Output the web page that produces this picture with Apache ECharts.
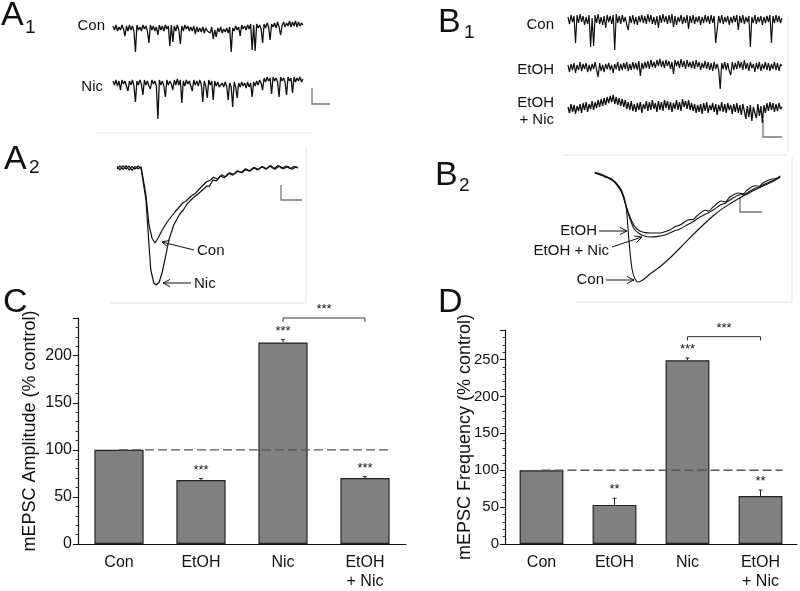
<!DOCTYPE html>
<html>
<head>
<meta charset="utf-8">
<script src="https://cdn.jsdelivr.net/npm/echarts@6/dist/echarts.min.js"></script>
<style>
html,body{margin:0;padding:0;background:#fff;}
#chart{width:800px;height:591px;}
</style>
</head>
<body>
<div id="chart"></div>
<script>
// ---------------- DATA ----------------
const categories = ['Con', 'EtOH', 'Nic', 'EtOH\n+ Nic'];
const ampMean = [100, 68, 214, 70];
const ampErr = [0, 1.5, 3, 1.5];
const ampSig = ['', '***', '***', '***'];
const ampBracket = [2, 3, 240, 4, '***'];
const freqMean = [100, 53, 249, 65];
const freqErr = [0, 9, 3, 8];
const freqSig = ['', '**', '***', '**'];
const freqBracket = [2, 3, 281, 5, '***'];
const controlLevel = 100;

// A1 traces (pA, evenly sampled)
const a1Con = [2,-2,3,-3,1,-2,3,-1,-8,2, -3,3,-2,2,-3,-24,3,-2,1,-3, 3,-1,2,-3,-15,3,-2,2,-3,1,
  -7,3,-2,2,-3,3,-1,2,-18,3, -14,2,-3,3,-2,-16,2,-3,3,-1, 2,-3,1,-3,2,-6,1,-4,0,-4,
  1,-5,0,-3,-1,-5,1,-11,-2,-9, 0,-4,1,-5,-1,-4,0,-5,1,-24, 0,-3,2,-2,1,-8,3,-1,2,-2,
  3,-1,4,-22,3,-23,4,0,3,-1, -15,4,0,5,1,-12,4,1,5,0, 6,1,-7,2,6,1,5,2,7,1, 6,2,7,1,6,2,5,3];
const a1Nic = [2,-2,3,-3,2,-7,3,-1,2,-3, -8,2,-2,3,-3,-19,2,-2,3,-1, -12,3,-2,2,-3,-6,3,-1,2,-3,
  -36,3,-2,2,-3,-14,3,-2,2,-1, -7,3,-2,4,-2,3,-20,2,-3,3, -1,2,-3,-8,3,-2,2,-3,3,-1,
  -19,2,-3,-15,3,-2,2,-17,2,-3, 1,-4,-6,0,-4,1,-3,-17,0,-4, -24,1,-4,-15,0,-4,1,-3,0,-5,
  1,-4,0,-14,1,-3,2,-2,3,0, -7,5,1,6,2,5,-11,6,2,5, 1,-14,6,2,5,1,-12,6,2,5, -10,6,1,5,2,6,1,4];
// B1 traces
const b1Con = [3,-4,5,-2,4,-23,5,-3,6,-2, 4,-5,3,-4,5,-27,2,-26,5,-3, 6,-4,3,-5,4,-8,5,-2,4,-4,
  5,-30,6,-3,4,-4,5,-2,3,-5, -10,4,-3,5,-4,3,-5,4,-2,5, -3,4,-4,6,-2,5,-4,3,-5,4,
  -8,5,-3,6,-2,4,-4,5,-3,6, -7,4,-5,3,-2,5,-4,3,-3,5, -9,4,-3,5,-4,3,-2,4,-5,3,
  -3,5,-2,4,-4,5,-3,4,-23,-22, 4,-3,5,-4,3,-2,4,-5,3,-3, 4,-2,5,-10,4,-3,5,-4,3,-2,
  4,-27,3,-3,5,-4,3,-2,4,-5, 3,-3,4,-2,5,-23,4,-3,5,-2, 4,-3,2];
const b1EtOH = [2,-5,3,-3,4,-6,2,-3,5,-4, 3,-2,4,-5,2,-4,3,-2,5,-3, -10,4,-4,2,-5,3,-2,4,-3,2,
  -6,3,-2,5,-4,3,-3,4,-2,5, -4,3,-3,5,-2,4,-3,6,-9,4, -2,5,-1,6,-2,7,0,5,-1,7,
  1,8,0,6,-1,7,1,6,-2,5, -7,7,1,6,-1,8,0,6,-2,7, 0,5,-1,6,-2,7,0,5,-3,4,
  -1,6,-2,5,-3,4,-4,5,-2,3, -3,-22,4,-2,5,-3,4,-4,-8,5, -3,4,-2,6,-1,5,-3,7,-2,4,
  -4,5,-1,3,-5,4,-2,5,-4,3, -2,5,-3,4,-4,3,-2,5,-3,4, -4,3,1];
const b1EtOHNic = [0,-6,3,-5,2,-7,1,-4,3,-6, 4,-3,5,-5,3,-2,6,-3,5,-1, 7,0,8,1,9,2,10,4,11,5,
  12,3,10,2,9,1,8,0,7,-2, 5,-3,6,-4,3,-5,4,-3,5,-6, 3,-2,6,-4,5,-3,7,-2,4,-5,
  6,-3,5,-4,7,-1,6,-3,5,-5, 4,-2,7,-3,5,-4,8,0,6,-2, 7,-3,4,-4,3,-6,2,-5,3,-7,
  4,-4,5,-6,2,-3,4,-5,3,-8, 2,-4,5,-5,3,-6,4,-3,2,-7, 3,-5,4,-6,2,-8,3,-4,-12,1,
  -10,2,-14,0,-6,-11,3,-9,1,-16, 2,-6,4,-4,5,-3,4,-5,3,-4, 4,-2,0];
// A2 averaged mEPSCs [ms, pA]
const a2Con = [[0,0.4],[0.5,-0.5],[1,0.6],[1.5,-0.3],[2,0.5],[2.5,-0.6],[3,0.4],[3.5,-0.2],[4,0.3],[4.3,0],[4.8,-6.75],[5.3,-14.25],[5.8,-17.5],[6.3,-18.75],[6.8,-17.5],[7.5,-15.5],[8.3,-13.5],[9.6,-11],[10.9,-8.75],[11.5,-8.2],[12.3,-7],[13,-6.3],[13.8,-5],[14.8,-3.5],[15.5,-3],[16,-2.3],[16.7,-2.8],[17.3,-1.7],[18,-2.2],[18.7,-1.2],[19.3,-1.6],[20,-0.8],[20.7,-1.2],[21.3,-0.4],[22,-0.8],[22.7,0],[23.3,-0.5],[24,0.3],[24.7,-0.3],[25.3,0.5],[26,-0.2],[26.7,0.6],[27.3,-0.1],[28,0.5],[28.7,-0.2],[29.3,0.4],[30,0]];
const a2Nic = [[0,-0.3],[0.5,0.5],[1,-0.4],[1.5,0.6],[2,-0.5],[2.5,0.4],[3,-0.3],[3.5,0.5],[4,-0.2],[4.3,0],[4.8,-8],[5.3,-19.25],[5.6,-25.5],[6.1,-28.75],[6.5,-29.25],[7,-28.5],[7.5,-26],[8,-22.5],[8.6,-18],[9.4,-14.25],[10.4,-11.5],[11,-10.5],[11.6,-9],[12.6,-7.5],[13.8,-6],[14.9,-4.5],[15.3,-4.6],[15.9,-3],[16.5,-3.2],[17.1,-2],[17.8,-2.4],[18.5,-1.3],[19.2,-1.8],[19.9,-0.7],[20.6,-1.1],[21.3,-0.2],[22,-0.7],[22.7,0.2],[23.4,-0.4],[24.1,0.4],[24.8,-0.2],[25.5,0.6],[26.2,-0.3],[26.9,0.5],[27.6,-0.2],[28.3,0.4],[29,-0.3],[29.7,0.3],[30,0]];
// B2 averaged mEPSCs [ms, pA]
const b2Con = [[0.8,0],[1.7,-0.5],[2.5,-0.75],[3.4,-1.6],[4.2,-2.25],[5.3,-4.5],[6,-8.25],[6.5,-17],[7,-24],[7.5,-26.5],[8,-27.25],[8.8,-26.75],[10,-25.25],[11,-24.2],[12.2,-22.75],[13.5,-21],[15,-18.75],[16.4,-16.6],[17.8,-14.5],[19.2,-12.5],[20.5,-10.75],[21.9,-9.1],[23.3,-7.75],[24.8,-6.4],[26.2,-5.25],[27.5,-4.2],[28.8,-3.25],[30.3,-2.25],[31.7,-1]];
const b2EtOH = [[0.8,0],[1.7,-0.3],[2.5,-1],[3.4,-1.5],[4.2,-2.5],[5.3,-5],[6.3,-9.5],[7.3,-13],[8.3,-14.5],[9.2,-14.9],[10,-15],[11.7,-15],[12.5,-14.7],[13.3,-14.25],[14.2,-13.4],[15,-13],[16.4,-11.7],[17.2,-11.6],[17.8,-10.75],[19.2,-9.3],[19.8,-9.5],[20.5,-8.5],[21.9,-7],[22.6,-7.2],[23.3,-6],[24.8,-5],[25.5,-5.2],[26.2,-4.25],[27.5,-3.2],[28.2,-3.3],[28.8,-2.5],[30.3,-1.5],[31,-1.4],[31.7,-0.75]];
const b2EtOHNic = [[0.8,0.2],[1.7,-0.2],[2.5,-0.8],[3.4,-1.3],[4.2,-2.3],[5.3,-4.8],[6.3,-9.8],[7.3,-13.8],[8.3,-15.25],[9.2,-15.8],[10,-16],[11.7,-15.75],[12.5,-15.5],[13.3,-15],[14.2,-14.4],[15,-14],[16.4,-12.8],[17.2,-12.2],[17.8,-11.5],[19.2,-10.3],[19.8,-9.9],[20.5,-9.25],[21.9,-7.9],[22.6,-7.5],[23.3,-6.75],[24.8,-5.5],[25.5,-5.4],[26.2,-5],[27.5,-3.8],[28.2,-3.6],[28.8,-3],[30.3,-2],[31,-1.5],[31.7,-1]];

// ---------------- CHART ----------------
const FONT = 'Arial, "Liberation Sans", Helvetica, sans-serif';
const chart = echarts.init(document.getElementById('chart'), null, {renderer: 'canvas'});

function idx(arr) { return arr.map((v, i) => [i, v]); }

function barYAxis(gi, max, name, gap, labelSize) {
  return {
    type: 'value', gridIndex: gi, min: 0, max: max, interval: 50,
    name: name, nameLocation: 'middle', nameGap: gap, nameMoveOverlap: false,
    nameTextStyle: {fontFamily: FONT, fontSize: 18, color: '#111'},
    axisLine: {show: true, lineStyle: {color: '#111', width: 1.2}},
    axisTick: {show: true, length: 5, lineStyle: {color: '#111'}},
    minorTick: {show: true, splitNumber: 5, length: 2.5, lineStyle: {color: '#333'}},
    axisLabel: {fontFamily: FONT, fontSize: labelSize, color: '#111', margin: 6, showMaxLabel: false},
    splitLine: {show: false}
  };
}
function barXAxis(gi) {
  return {
    type: 'category', gridIndex: gi, data: categories,
    axisLine: {show: true, lineStyle: {color: '#111', width: 1.2}},
    axisTick: {show: false},
    axisLabel: {fontFamily: FONT, fontSize: 16, color: '#111', margin: 9, lineHeight: 19, interval: 0}
  };
}
function hidX(gi, min, max) { return {type: 'value', gridIndex: gi, min: min, max: max, show: false}; }
function hidY(gi, min, max) { return {type: 'value', gridIndex: gi, min: min, max: max, show: false}; }

function traceSeries(gi, data, smooth, width) {
  return {
    type: 'line', xAxisIndex: gi, yAxisIndex: gi, data: data, symbol: 'none',
    smooth: smooth || false, silent: true, animation: false, sampling: null,
    lineStyle: {color: '#111', width: width || 1}
  };
}

function barSeries(gi, means) {
  return {
    type: 'bar', xAxisIndex: gi, yAxisIndex: gi, data: means, barWidth: '60%',
    itemStyle: {color: '#808080', borderColor: '#222', borderWidth: 1.2},
    silent: true, animation: false, z: 2
  };
}

function errSeries(gi, means, errs, sigs) {
  return {
    type: 'custom', xAxisIndex: gi, yAxisIndex: gi, z: 5, silent: true, animation: false,
    data: means.map((m, i) => [i, m, errs[i]]),
    renderItem: function (params, api) {
      const i = api.value(0), m = api.value(1), e = api.value(2);
      const base = api.coord([i, m]);
      const top = api.coord([i, m + e]);
      const children = [];
      if (e > 0) {
        children.push({type: 'line', shape: {x1: base[0], y1: base[1], x2: top[0], y2: top[1]}, style: {stroke: '#222', lineWidth: 1}});
        children.push({type: 'line', shape: {x1: top[0] - 2, y1: top[1], x2: top[0] + 2, y2: top[1]}, style: {stroke: '#222', lineWidth: 1}});
      }
      if (sigs[i]) {
        children.push({type: 'text', x: top[0], y: top[1] - 2, style: {text: sigs[i], fontFamily: FONT, fontSize: 13, fill: '#111', align: 'center', verticalAlign: 'bottom'}});
      }
      return {type: 'group', children: children};
    }
  };
}

function refSeries(gi, level) {
  return {
    type: 'custom', xAxisIndex: gi, yAxisIndex: gi, z: 4, silent: true, animation: false,
    data: [[0, level]],
    renderItem: function (params, api) {
      const p0 = api.coord([0, api.value(1)]);
      const p1 = api.coord([categories.length - 1, api.value(1)]);
      const bw = api.size([1, 0])[0];
      return {type: 'line', shape: {x1: p0[0], y1: p0[1], x2: p1[0] + bw * 0.3, y2: p1[1]},
        style: {stroke: '#555', lineWidth: 1.4, lineDash: [9, 4]}};
    }
  };
}

function bracketSeries(gi, b) {
  return {
    type: 'custom', xAxisIndex: gi, yAxisIndex: gi, z: 5, silent: true, animation: false,
    data: [[b[0], b[1], b[2], b[3]]],
    renderItem: function (params, api) {
      const a = api.coord([api.value(0), api.value(2)]);
      const c = api.coord([api.value(1), api.value(2)]);
      const d = api.coord([api.value(1), api.value(2) - api.value(3)]);
      const drop = d[1] - c[1];
      return {type: 'group', children: [
        {type: 'polyline', shape: {points: [[a[0], a[1] + drop], [a[0], a[1]], [c[0], c[1]], [c[0], c[1] + drop]]}, style: {stroke: '#333', lineWidth: 1, fill: null}},
        {type: 'text', x: (a[0] + c[0]) / 2, y: a[1] - 2, style: {text: b[4], fontFamily: FONT, fontSize: 13, fill: '#111', align: 'center', verticalAlign: 'bottom'}}
      ]};
    }
  };
}

// grids
const grids = [
  {left: 78, top: 318, width: 328, height: 230},   // 0 C
  {left: 505, top: 330, width: 292, height: 214},  // 1 D
  {left: 113, top: 18, width: 190, height: 50},    // 2 A1 Con
  {left: 113, top: 73, width: 190, height: 50},    // 3 A1 Nic
  {left: 568, top: 10, width: 214, height: 42},    // 4 B1 Con
  {left: 568, top: 57, width: 214, height: 42},    // 5 B1 EtOH
  {left: 568, top: 95, width: 214, height: 42},    // 6 B1 EtOH+Nic
  {left: 117, top: 158, width: 181, height: 132},  // 7 A2
  {left: 590, top: 165, width: 195, height: 125}   // 8 B2
];

const xAxes = [
  barXAxis(0), barXAxis(1),
  hidX(2, 0, a1Con.length - 1), hidX(3, 0, a1Nic.length - 1),
  hidX(4, 0, b1Con.length - 1), hidX(5, 0, b1EtOH.length - 1), hidX(6, 0, b1EtOHNic.length - 1),
  hidX(7, 0, 30), hidX(8, 0, 32.5)
];
const yAxes = [
  barYAxis(0, 240, 'mEPSC Amplitude (% control)', 39, 16),
  barYAxis(1, 290, 'mEPSC Frequency (% control)', 31, 15),
  hidY(2, -40, 10), hidY(3, -40, 10),
  hidY(4, -32, 10), hidY(5, -32, 10), hidY(6, -30, 12),
  hidY(7, -30.5, 2.5), hidY(8, -29.25, 2)
];

// graphic helpers
function txt(x, y, s, size, align) {
  return {type: 'text', x: x, y: y, silent: true,
    style: {text: s, fontFamily: FONT, fontSize: size, fill: '#111', align: align || 'left', verticalAlign: 'middle'}};
}
function lineG(x1, y1, x2, y2, color, w) {
  return {type: 'line', silent: true, shape: {x1: x1, y1: y1, x2: x2, y2: y2}, style: {stroke: color, lineWidth: w || 1}};
}
function scaleBar(x, y1, y2, x2) {
  return {type: 'polyline', silent: true, shape: {points: [[x, y1], [x, y2], [x2, y2]]}, style: {stroke: '#777', lineWidth: 1.3, fill: null}};
}
function arrow(x1, y1, x2, y2) {
  const ang = Math.atan2(y2 - y1, x2 - x1);
  const L = 7, W = 3.5;
  const bx = x2 - L * Math.cos(ang), by = y2 - L * Math.sin(ang);
  const px = -Math.sin(ang) * W, py = Math.cos(ang) * W;
  return {type: 'group', silent: true, children: [
    lineG(x1, y1, x2, y2, '#111', 1),
    {type: 'polyline', shape: {points: [[bx + px, by + py], [x2, y2], [bx - px, by - py]]}, style: {stroke: '#111', lineWidth: 1, fill: null}}
  ]};
}

const graphics = [
  // light frame lines of the original figure
  lineG(95, 133, 313, 133, '#e4e4e4'),
  lineG(306, 148, 306, 303, '#e4e4e4'),
  lineG(110, 303, 306, 303, '#e4e4e4'),
  lineG(788, 15, 788, 152, '#e4e4e4'),
  lineG(562, 155, 788, 155, '#e4e4e4'),
  lineG(792, 157, 792, 302, '#e4e4e4'),
  lineG(575, 302, 792, 302, '#e4e4e4'),
  // panel letters
  txt(1, 16, 'A', 34), txt(25, 28, '1', 19),
  txt(4, 160, 'A', 34), txt(29, 168, '2', 19),
  txt(438, 23, 'B', 34), txt(464, 33, '1', 19),
  txt(435, 176, 'B', 34), txt(459, 186, '2', 19),
  txt(3, 303, 'C', 34),
  txt(438, 303, 'D', 34),
  // trace labels
  txt(105, 26, 'Con', 15, 'right'),
  txt(103, 87, 'Nic', 15, 'right'),
  txt(554, 25, 'Con', 15, 'right'),
  txt(554, 70, 'EtOH', 15, 'right'),
  txt(554, 103, 'EtOH', 15, 'right'),
  txt(554, 120, '+ Nic', 15, 'right'),
  txt(197, 251, 'Con', 15),
  txt(194, 284, 'Nic', 15),
  txt(597, 231, 'EtOH', 15, 'right'),
  txt(609, 251, 'EtOH + Nic', 15, 'right'),
  txt(604, 280, 'Con', 15, 'right'),
  // arrows
  arrow(194, 250, 162, 242),
  arrow(191, 283, 163, 283),
  arrow(599, 231, 627, 231),
  arrow(612, 247, 642, 237),
  arrow(606, 280, 634, 280),
  // scale bars
  scaleBar(312, 88, 104, 330),
  scaleBar(281, 185, 200, 302),
  scaleBar(763, 120, 137, 782),
  scaleBar(740, 197, 212, 762)
];

const option = {
  backgroundColor: '#fff',
  animation: false,
  grid: grids,
  xAxis: xAxes,
  yAxis: yAxes,
  graphic: graphics,
  series: [
    barSeries(0, ampMean), refSeries(0, controlLevel), errSeries(0, ampMean, ampErr, ampSig), bracketSeries(0, ampBracket),
    barSeries(1, freqMean), refSeries(1, controlLevel), errSeries(1, freqMean, freqErr, freqSig), bracketSeries(1, freqBracket),
    traceSeries(2, idx(a1Con), false, 1.3), traceSeries(3, idx(a1Nic), false, 1.3),
    traceSeries(4, idx(b1Con), false, 1.2), traceSeries(5, idx(b1EtOH), false, 1.2), traceSeries(6, idx(b1EtOHNic), false, 1.3),
    traceSeries(7, a2Con, false, 1.2), traceSeries(7, a2Nic, false, 1.2),
    traceSeries(8, b2Con, 0.3, 1.1), traceSeries(8, b2EtOH, 0.3, 1.1), traceSeries(8, b2EtOHNic, 0.3, 1.1)
  ]
};
chart.setOption(option);
</script>
</body>
</html>
